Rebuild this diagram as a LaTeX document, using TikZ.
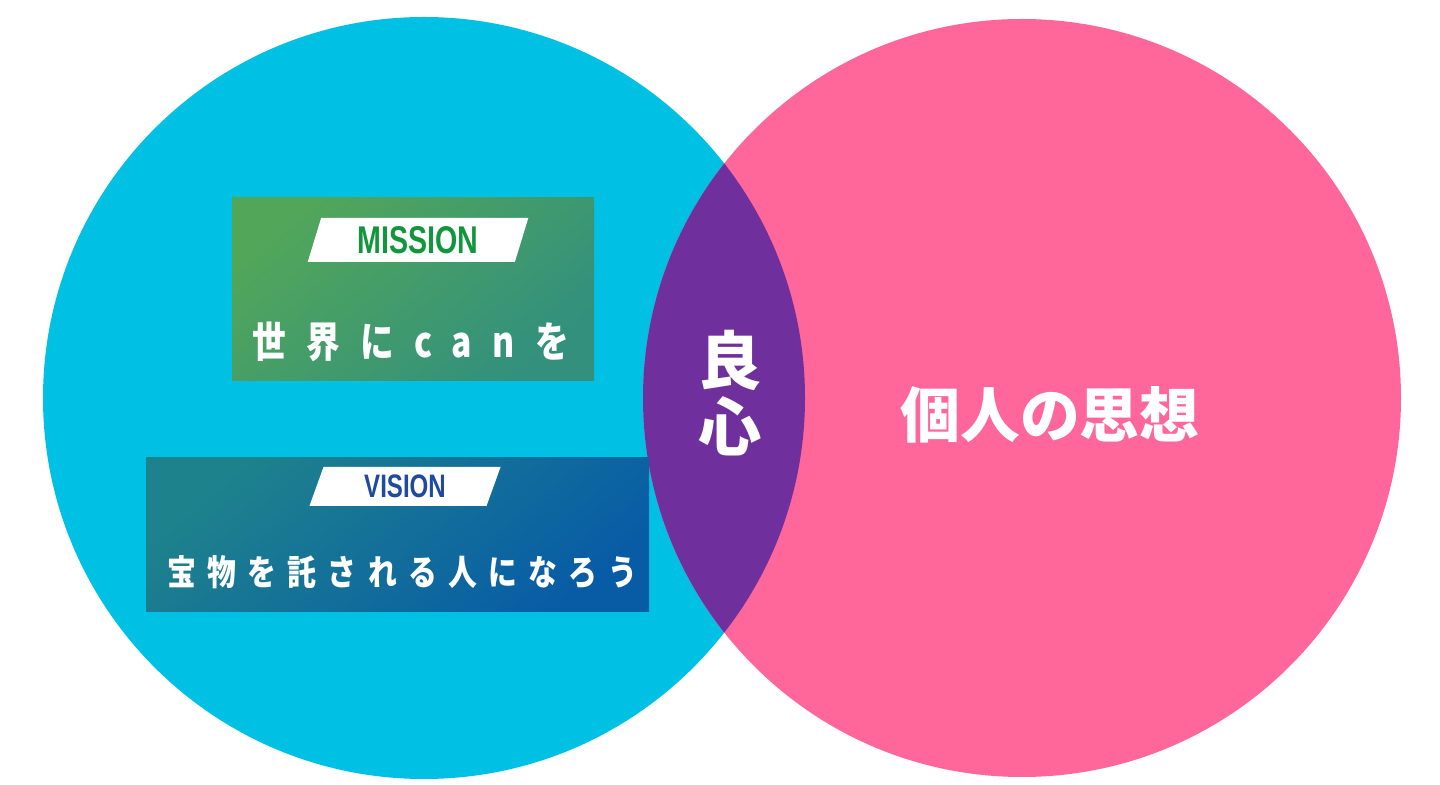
\documentclass[tikz,border=0pt]{standalone}
\usepackage{fontspec}
\usepackage{xcolor}
\usepackage{tikz}
\usetikzlibrary{shapes.geometric, positioning, calc}

\setmainfont{Noto Sans CJK JP}
\newfontfamily\tagfont[FakeStretch=0.74]{Liberation Sans}
\newfontfamily\missionfont[FakeStretch=0.8, LetterSpace=48]{Noto Sans CJK JP}
\newfontfamily\visionfont[FakeStretch=0.82, LetterSpace=32]{Noto Sans CJK JP}

\definecolor{skycyan}{RGB}{0,192,227}
\definecolor{rosepink}{RGB}{255,102,153}
\definecolor{lensviolet}{RGB}{111,47,157}
\definecolor{missiontop}{RGB}{82,166,90}
\definecolor{missionbot}{RGB}{50,144,125}
\definecolor{visiontop}{RGB}{30,130,140}
\definecolor{visionbot}{RGB}{8,92,166}
\definecolor{missiongreen}{RGB}{18,150,60}
\definecolor{visionblue}{RGB}{30,75,160}

\begin{document}
\begin{tikzpicture}[
    panel/.style 2 args={rectangle, inner sep=0pt, top color=#1, bottom color=#2, shading angle=40},
    tagbox/.style={trapezium, trapezium left angle=73, trapezium right angle=107, trapezium stretches=true, fill=white, inner sep=0pt},
    slogan/.style={text=white, inner sep=0pt},
    bigword/.style={text=white, inner sep=0pt, align=center}]

    \useasboundingbox (0,0) rectangle (28.8,15.7);

    % the two circles and their overlap
    \fill [skycyan] (8.48,7.74) circle (7.62);
    \fill [rosepink] (20.44,7.74) circle (7.58);
    \begin{scope}
        \clip (8.48,7.74) circle (7.62);
        \fill [lensviolet] (20.44,7.74) circle (7.58);
    \end{scope}

    % mission
    \node [panel={missiontop}{missionbot}, minimum width=7.24cm, minimum height=3.66cm] (mission) at (8.26,9.91) {};
    \node [tagbox, minimum width=4.44cm, minimum height=0.88cm, text=missiongreen, font=\tagfont\bfseries\fontsize{22}{22}\selectfont] (missiontag) at (8.36,10.90) {MISSION};
    \node [slogan, font=\missionfont\bfseries\fontsize{24}{24}\selectfont] (missiontext) at (8.21,8.86) {世界にcanを};

    % vision
    \node [panel={visiontop}{visionbot}, minimum width=10.06cm, minimum height=3.08cm] (vision) at (7.95,5.00) {};
    \node [tagbox, minimum width=3.84cm, minimum height=0.78cm, text=visionblue, font=\tagfont\bfseries\fontsize{18.5}{18.5}\selectfont] (visiontag) at (8.10,5.97) {VISION};
    \node [slogan, font=\visionfont\bfseries\fontsize{20}{20}\selectfont] (visiontext) at (8.05,4.25) {宝物を託される人になろう};

    % labels
    \node [bigword, font=\bfseries\fontsize{36}{37.5}\selectfont] (conscience) at (14.60,7.84) {良\\心};
    \node [bigword, font=\bfseries\fontsize{34}{40}\selectfont] (thought) at (21.00,7.40) {個人の思想};
\end{tikzpicture}
\end{document}
